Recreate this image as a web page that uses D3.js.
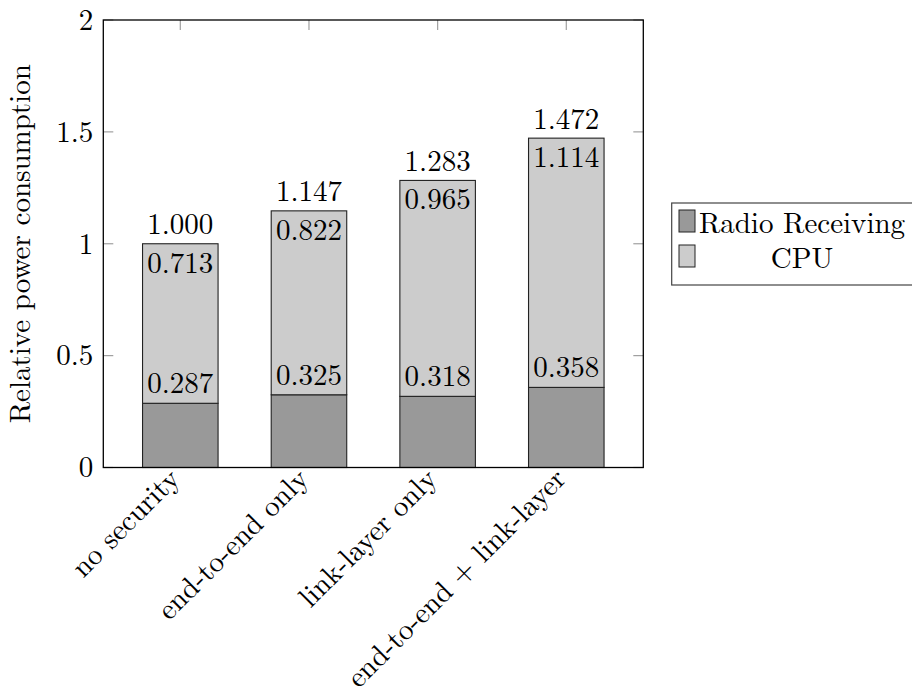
<!DOCTYPE html>
<html>
<head>
<meta charset="utf-8">
<script src="https://cdn.jsdelivr.net/npm/d3@7/dist/d3.min.js"></script>
<style>
  html, body { margin: 0; padding: 0; background: #fff; }
  svg { display: block; }
</style>
</head>
<body>
<svg id="chart" width="912" height="689"></svg>
<script>
// ---- data ----
const categories = ["no security", "end-to-end only", "link-layer only", "end-to-end + link-layer"];
const radioReceiving = [0.287, 0.325, 0.318, 0.358];
const cpu = [0.713, 0.822, 0.965, 1.114];
const totals = [1.000, 1.147, 1.283, 1.472];
const yTicks = [0, 0.5, 1, 1.5, 2];
const yTickLabels = ["0", "0.5", "1", "1.5", "2"];
const seriesNames = ["Radio Receiving", "CPU"];
const yLabel = "Relative power consumption";

// ---- layout ----
const FONT = '"Latin Modern Roman", "Liberation Serif", serif';
const plot = { left: 103.3, right: 643.3, top: 20, bottom: 467.5 };
const colors = { radio: "#999999", cpu: "#cccccc" };
const fs = 29;

const svg = d3.select("#chart").style("font-family", FONT);

const x = d3.scaleBand().domain(categories)
  .range([plot.left, plot.right]).paddingInner(0.413).paddingOuter(0.305);
const y = d3.scaleLinear().domain([0, 2]).range([plot.bottom, plot.top]);

const rows = categories.map((c, i) => ({ c, r: radioReceiving[i], p: cpu[i], t: totals[i] }));

function txt(sel) { return sel.style("font-family", FONT).attr("font-size", fs).attr("fill", "#000"); }

// ---- ticks (grey, inward) ----
const tickG = svg.append("g").attr("stroke", "#a0a0a0").attr("stroke-width", 1.2);
yTicks.forEach(v => {
  tickG.append("line").attr("x1", plot.left).attr("x2", plot.left + 10).attr("y1", y(v)).attr("y2", y(v));
  tickG.append("line").attr("x1", plot.right).attr("x2", plot.right - 10).attr("y1", y(v)).attr("y2", y(v));
});
categories.forEach(c => {
  const cx = x(c) + x.bandwidth() / 2;
  tickG.append("line").attr("x1", cx).attr("x2", cx).attr("y1", plot.top).attr("y2", plot.top + 10);
});

// ---- bars ----
const barG = svg.append("g").attr("stroke", "#222").attr("stroke-width", 1.1);
barG.selectAll("rect.radio").data(rows).join("rect").attr("class", "radio")
  .attr("x", d => x(d.c)).attr("width", x.bandwidth())
  .attr("y", d => y(d.r)).attr("height", d => y(0) - y(d.r))
  .attr("fill", colors.radio);
barG.selectAll("rect.cpu").data(rows).join("rect").attr("class", "cpu")
  .attr("x", d => x(d.c)).attr("width", x.bandwidth())
  .attr("y", d => y(d.r + d.p)).attr("height", d => y(d.r) - y(d.r + d.p))
  .attr("fill", colors.cpu);

// ---- frame ----
svg.append("rect").attr("x", plot.left).attr("y", plot.top)
  .attr("width", plot.right - plot.left).attr("height", plot.bottom - plot.top)
  .attr("fill", "none").attr("stroke", "#000").attr("stroke-width", 1.3);

// ---- bar labels ----
const lab = svg.append("g").attr("text-anchor", "middle");
const fmt = d3.format(".3f");
lab.selectAll("text.r").data(rows).join("text").attr("class", "r").call(txt)
  .attr("x", d => x(d.c) + x.bandwidth() / 2).attr("y", d => y(d.r) - 10).text(d => fmt(d.r));
lab.selectAll("text.p").data(rows).join("text").attr("class", "p").call(txt)
  .attr("x", d => x(d.c) + x.bandwidth() / 2).attr("y", d => y(d.r + d.p) + 29).text(d => fmt(d.p));
lab.selectAll("text.t").data(rows).join("text").attr("class", "t").call(txt)
  .attr("x", d => x(d.c) + x.bandwidth() / 2).attr("y", d => y(d.r + d.p) - 9.5).text(d => fmt(d.t));

// ---- y axis labels ----
const yAxis = d3.axisLeft(y).tickValues(yTicks).tickSize(0).tickPadding(10)
  .tickFormat((d, i) => yTickLabels[i]);
const ya = svg.append("g").attr("transform", `translate(${plot.left},0)`).call(yAxis)
  .attr("font-family", null).attr("font-size", null);
ya.select(".domain").remove();
ya.selectAll("text").call(txt);

// ---- x tick labels (rotated 45) ----
const xl = svg.append("g").attr("text-anchor", "end");
categories.forEach(c => {
  const px = x(c) + x.bandwidth() / 2 + 1, py = plot.bottom + 13;
  xl.append("text").call(txt).attr("transform", `translate(${px},${py}) rotate(-45)`).text(c);
});

// ---- y axis title ----
svg.append("text").call(txt)
  .attr("transform", `translate(30,${(plot.top + plot.bottom) / 2}) rotate(-90)`)
  .attr("text-anchor", "middle").text(yLabel);

// ---- legend ----
const leg = svg.append("g");
leg.append("rect").attr("x", 671.7).attr("y", 203).attr("width", 260).attr("height", 82)
  .attr("fill", "#fff").attr("stroke", "#444").attr("stroke-width", 1.2);
const legItems = [ { name: seriesNames[0], fill: colors.radio }, { name: seriesNames[1], fill: colors.cpu } ];
legItems.forEach((it, i) => {
  const top = 210 + i * 35;
  leg.append("rect").attr("x", 679).attr("y", top).attr("width", 16).attr("height", 22)
    .attr("fill", it.fill).attr("stroke", "#222").attr("stroke-width", 1);
  leg.append("text").call(txt).attr("x", 802).attr("y", top + 23).attr("text-anchor", "middle")
    .text(it.name);
});
</script>
</body>
</html>
